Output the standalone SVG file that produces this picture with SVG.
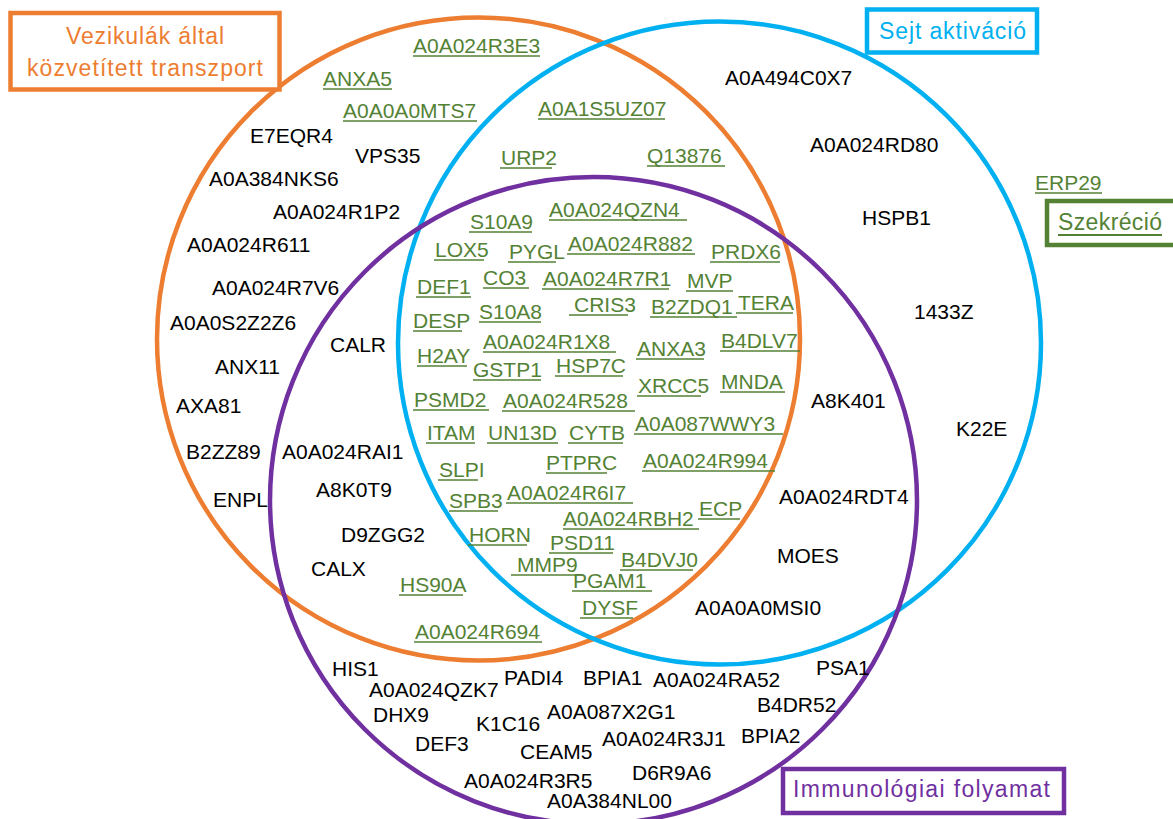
<svg xmlns="http://www.w3.org/2000/svg" width="1173" height="819" viewBox="0 0 1173 819">
<style>
  .set{fill:none;stroke-width:4.5}
  .box{fill:#fff;stroke-width:4.5}
  .title{font-family:"Liberation Sans",Arial,sans-serif;font-size:23px;text-anchor:middle}
  .lbl{font-family:"Liberation Sans",Arial,sans-serif;font-size:21px}
  .g{fill:#548235}
  .k{fill:#000}
  .ul line{stroke:#548235;stroke-width:1.5}
</style>
<rect width="1173" height="819" fill="#fff"/>
<g id="set-vezikulak">
  <circle class="set" cx="478.5" cy="339" r="321.5" stroke="#ED7D31"/>
</g>
<g id="set-sejt">
  <circle class="set" cx="719.5" cy="343" r="321.5" stroke="#00B0F0"/>
</g>
<g id="set-immuno">
  <circle class="set" cx="593.5" cy="500.5" r="323.5" stroke="#7030A0"/>
</g>
<g id="connectors"></g>
<g id="title-vezikulak">
  <rect class="box" x="10.5" y="13" width="269" height="76.5" stroke="#ED7D31"/>
  <text class="title" x="145" y="44" fill="#ED7D31" textLength="158">Vezikulák által</text>
  <text class="title" x="145" y="76" fill="#ED7D31" textLength="236">közvetített transzport</text>
</g>
<g id="title-sejt">
  <rect class="box" x="867" y="9.5" width="170" height="43" stroke="#00B0F0"/>
  <text class="title" x="952.5" y="39" fill="#00B0F0" textLength="147">Sejt aktiváció</text>
</g>
<g id="title-szekrecio">
  <rect class="box" x="1047" y="201" width="130" height="44" stroke="#548235"/>
  <text class="title" x="1110" y="230" fill="#548235" textLength="104">Szekréció</text>
  <line x1="1058" y1="235" x2="1162" y2="235" stroke="#548235" stroke-width="2"/>
</g>
<g id="title-immuno">
  <rect class="box" x="783" y="769" width="281" height="44" stroke="#7030A0"/>
  <text class="title" x="921.5" y="797" fill="#7030A0" textLength="257">Immunológiai folyamat</text>
</g>
<g id="labels-green" class="lbl g">
  <text x="413" y="53">A0A024R3E3</text>
  <text x="323" y="86">ANXA5</text>
  <text x="343" y="118">A0A0A0MTS7</text>
  <text x="538" y="116">A0A1S5UZ07</text>
  <text x="501" y="165">URP2</text>
  <text x="647" y="163">Q13876</text>
  <text x="470" y="229">S10A9</text>
  <text x="549" y="217">A0A024QZN4</text>
  <text x="435" y="257">LOX5</text>
  <text x="509" y="259">PYGL</text>
  <text x="568" y="251">A0A024R882</text>
  <text x="711" y="259">PRDX6</text>
  <text x="417" y="294">DEF1</text>
  <text x="483" y="285">CO3</text>
  <text x="543" y="286">A0A024R7R1</text>
  <text x="687" y="288">MVP</text>
  <text x="413" y="328">DESP</text>
  <text x="479" y="319">S10A8</text>
  <text x="574" y="312">CRIS3</text>
  <text x="651" y="314">B2ZDQ1</text>
  <text x="738" y="310">TERA</text>
  <text x="483" y="349">A0A024R1X8</text>
  <text x="637" y="356">ANXA3</text>
  <text x="721" y="348">B4DLV7</text>
  <text x="417" y="363">H2AY</text>
  <text x="473" y="377">GSTP1</text>
  <text x="556" y="373">HSP7C</text>
  <text x="638" y="393">XRCC5</text>
  <text x="721" y="389">MNDA</text>
  <text x="414" y="407">PSMD2</text>
  <text x="503" y="408">A0A024R528</text>
  <text x="635" y="431">A0A087WWY3</text>
  <text x="427" y="440">ITAM</text>
  <text x="488" y="440">UN13D</text>
  <text x="569" y="440">CYTB</text>
  <text x="546" y="470">PTPRC</text>
  <text x="643" y="468">A0A024R994</text>
  <text x="439" y="477">SLPI</text>
  <text x="449" y="508">SPB3</text>
  <text x="507" y="500">A0A024R6I7</text>
  <text x="699" y="516">ECP</text>
  <text x="563" y="526">A0A024RBH2</text>
  <text x="469" y="542">HORN</text>
  <text x="550" y="550">PSD11</text>
  <text x="621" y="567">B4DVJ0</text>
  <text x="517" y="572">MMP9</text>
  <text x="573" y="588">PGAM1</text>
  <text x="400" y="592">HS90A</text>
  <text x="582" y="615">DYSF</text>
  <text x="415" y="639">A0A024R694</text>
  <text x="1035" y="190">ERP29</text>
</g>
<g id="underlines" class="ul">
  <line x1="413" y1="56" x2="540" y2="56"/>
  <line x1="323" y1="89" x2="392" y2="89"/>
  <line x1="343" y1="121" x2="477" y2="121"/>
  <line x1="538" y1="119" x2="665" y2="119"/>
  <line x1="500" y1="168" x2="552" y2="168"/>
  <line x1="647" y1="166" x2="725" y2="166"/>
  <line x1="469" y1="232" x2="532" y2="232"/>
  <line x1="549" y1="220" x2="687" y2="220"/>
  <line x1="434" y1="260" x2="484" y2="260"/>
  <line x1="508" y1="262" x2="556" y2="262"/>
  <line x1="567" y1="254" x2="695" y2="254"/>
  <line x1="710" y1="262" x2="780" y2="262"/>
  <line x1="416" y1="297" x2="471" y2="297"/>
  <line x1="483" y1="288" x2="529" y2="288"/>
  <line x1="542" y1="289" x2="669" y2="289"/>
  <line x1="686" y1="291" x2="733" y2="291"/>
  <line x1="413" y1="331" x2="462" y2="331"/>
  <line x1="479" y1="322" x2="541" y2="322"/>
  <line x1="569" y1="315" x2="628" y2="315"/>
  <line x1="650" y1="317" x2="737" y2="317"/>
  <line x1="736" y1="313" x2="793" y2="313"/>
  <line x1="483" y1="352" x2="616" y2="352"/>
  <line x1="636" y1="359" x2="704" y2="359"/>
  <line x1="720" y1="351" x2="800" y2="351"/>
  <line x1="417" y1="366" x2="467" y2="366"/>
  <line x1="473" y1="380" x2="541" y2="380"/>
  <line x1="555" y1="376" x2="623" y2="376"/>
  <line x1="637" y1="396" x2="701" y2="396"/>
  <line x1="720" y1="392" x2="785" y2="392"/>
  <line x1="413" y1="410" x2="489" y2="410"/>
  <line x1="502" y1="411" x2="635" y2="411"/>
  <line x1="634" y1="434" x2="783" y2="434"/>
  <line x1="426" y1="443" x2="475" y2="443"/>
  <line x1="487" y1="443" x2="558" y2="443"/>
  <line x1="568" y1="443" x2="623" y2="443"/>
  <line x1="546" y1="473" x2="607" y2="473"/>
  <line x1="642" y1="471" x2="775" y2="471"/>
  <line x1="438" y1="480" x2="478" y2="480"/>
  <line x1="449" y1="511" x2="498" y2="511"/>
  <line x1="506" y1="503" x2="633" y2="503"/>
  <line x1="698" y1="519" x2="740" y2="519"/>
  <line x1="563" y1="529" x2="699" y2="529"/>
  <line x1="468" y1="545" x2="527" y2="545"/>
  <line x1="549" y1="553" x2="613" y2="553"/>
  <line x1="620" y1="570" x2="693" y2="570"/>
  <line x1="511" y1="575" x2="582" y2="575"/>
  <line x1="572" y1="591" x2="652" y2="591"/>
  <line x1="399" y1="595" x2="463" y2="595"/>
  <line x1="580" y1="618" x2="633" y2="618"/>
  <line x1="414" y1="642" x2="542" y2="642"/>
  <line x1="1035" y1="193" x2="1102" y2="193"/>
</g>
<g id="labels-black" class="lbl k">
  <text x="250" y="143">E7EQR4</text>
  <text x="355" y="163">VPS35</text>
  <text x="209" y="186">A0A384NKS6</text>
  <text x="273" y="219">A0A024R1P2</text>
  <text x="187" y="252">A0A024R611</text>
  <text x="212" y="295">A0A024R7V6</text>
  <text x="170" y="330">A0A0S2Z2Z6</text>
  <text x="330" y="352">CALR</text>
  <text x="215" y="374">ANX11</text>
  <text x="176" y="413">AXA81</text>
  <text x="186" y="459">B2ZZ89</text>
  <text x="282" y="459">A0A024RAI1</text>
  <text x="213" y="507">ENPL</text>
  <text x="316" y="497">A8K0T9</text>
  <text x="341" y="542">D9ZGG2</text>
  <text x="311" y="576">CALX</text>
  <text x="725" y="85">A0A494C0X7</text>
  <text x="810" y="152">A0A024RD80</text>
  <text x="862" y="225">HSPB1</text>
  <text x="914" y="319">1433Z</text>
  <text x="811" y="408">A8K401</text>
  <text x="956" y="436">K22E</text>
  <text x="779" y="504">A0A024RDT4</text>
  <text x="777" y="563">MOES</text>
  <text x="695" y="615">A0A0A0MSI0</text>
  <text x="332" y="676">HIS1</text>
  <text x="369" y="697">A0A024QZK7</text>
  <text x="504" y="685">PADI4</text>
  <text x="583" y="685">BPIA1</text>
  <text x="653" y="687">A0A024RA52</text>
  <text x="816" y="675">PSA1</text>
  <text x="373" y="722">DHX9</text>
  <text x="476" y="731">K1C16</text>
  <text x="547" y="719">A0A087X2G1</text>
  <text x="757" y="712">B4DR52</text>
  <text x="415" y="751">DEF3</text>
  <text x="520" y="759">CEAM5</text>
  <text x="602" y="746">A0A024R3J1</text>
  <text x="741" y="743">BPIA2</text>
  <text x="632" y="780">D6R9A6</text>
  <text x="464" y="788">A0A024R3R5</text>
  <text x="547" y="808">A0A384NL00</text>
</g>
</svg>
